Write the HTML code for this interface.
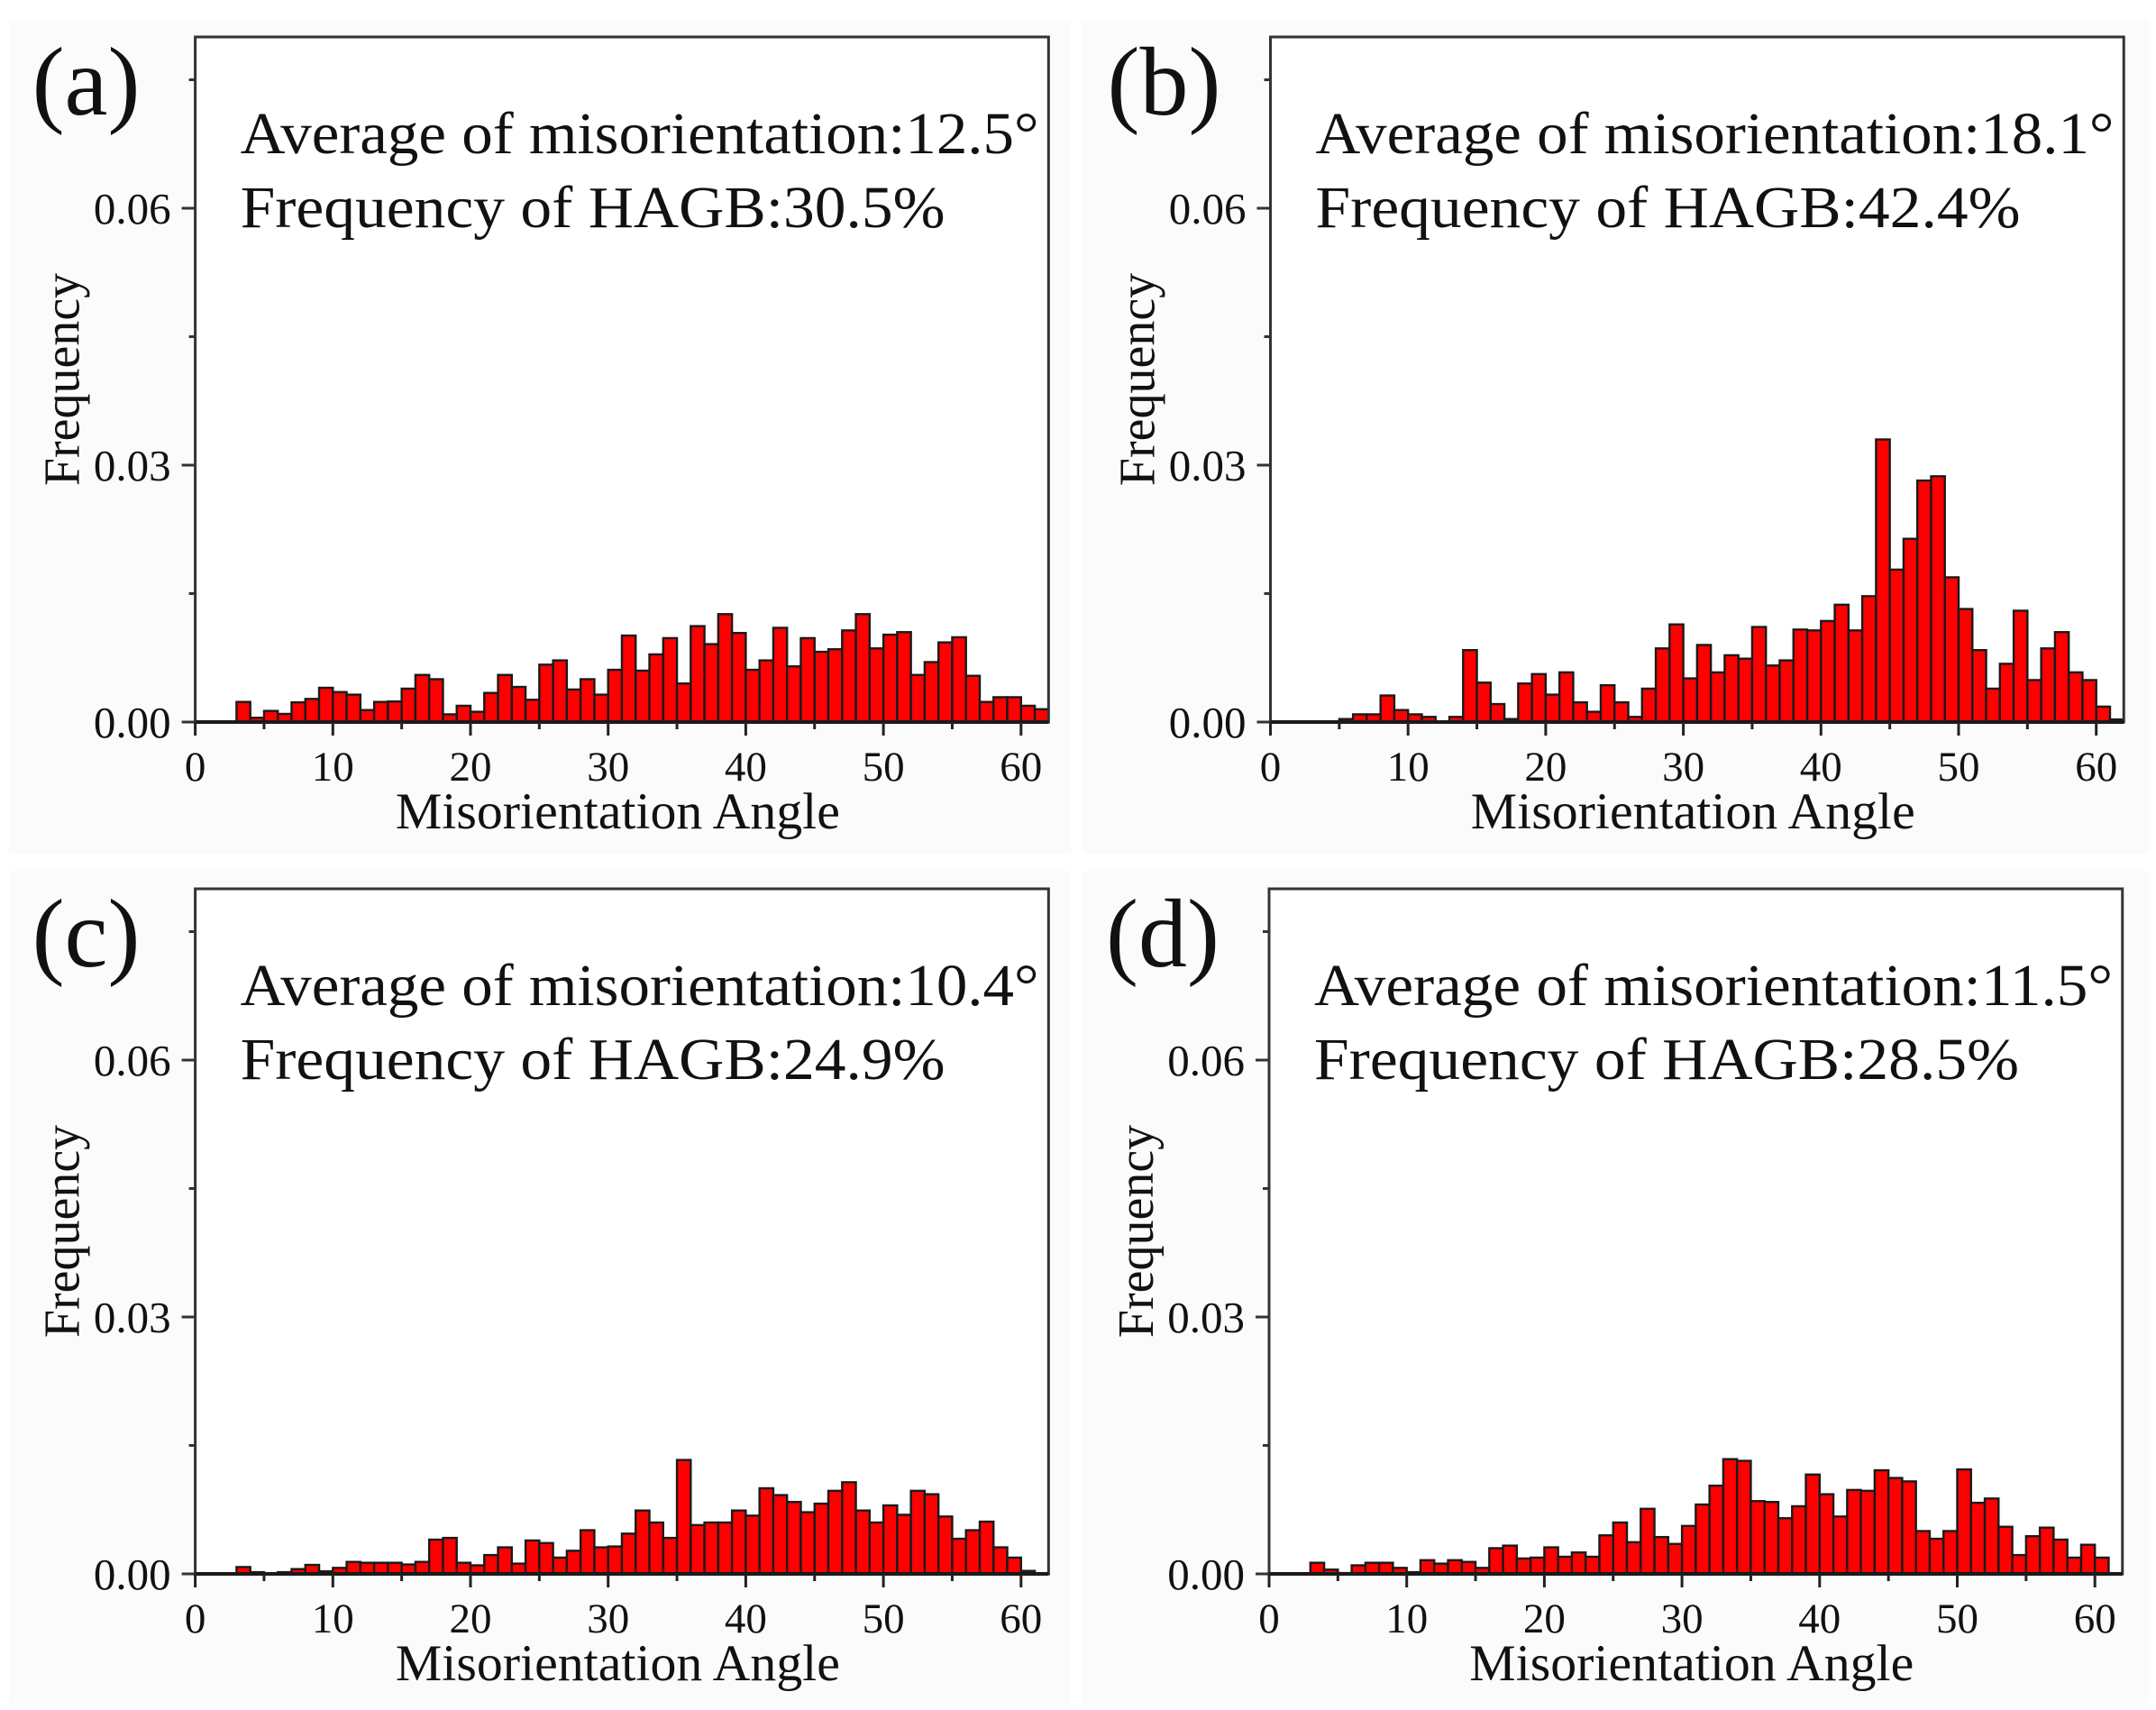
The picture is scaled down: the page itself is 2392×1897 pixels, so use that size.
<!DOCTYPE html>
<html>
<head>
<meta charset="utf-8">
<style>
  html,body{margin:0;padding:0;background:#ffffff;}
  svg{display:block;}
  text{font-family:"Liberation Serif","DejaVu Serif",serif;fill:#111;}
</style>
</head>
<body>
<svg id="fig" width="2392" height="1897" viewBox="0 0 2392 1897" xmlns="http://www.w3.org/2000/svg"></svg>
<script>
// ---- data (bin start angle in degrees, frequency) ----
const binsA = [3,4,5,6,7,8,9,10,11,12,13,14,15,16,17,18,19,20,21,22,23,24,25,26,27,28,29,30,31,32,33,34,35,36,37,38,39,40,41,42,43,44,45,46,47,48,49,50,51,52,53,54,55,56,57,58,59,60,61];
const freqA = [0.00235,0.0005,0.0013,0.00095,0.0023,0.0027,0.004,0.0035,0.0032,0.0014,0.00235,0.0024,0.0039,0.0055,0.005,0.0009,0.0019,0.0012,0.0034,0.0055,0.0041,0.0026,0.0067,0.0072,0.0038,0.005,0.0032,0.0061,0.0101,0.006,0.0079,0.0098,0.0045,0.0112,0.0091,0.0126,0.0104,0.0061,0.0072,0.011,0.0065,0.0098,0.0082,0.0085,0.0107,0.0126,0.0086,0.0102,0.0105,0.0055,0.007,0.0093,0.0099,0.0054,0.00235,0.0029,0.0029,0.0019,0.0015];
const binsB = [5,6,7,8,9,10,11,12,13,14,15,16,17,18,19,20,21,22,23,24,25,26,27,28,29,30,31,32,33,34,35,36,37,38,39,40,41,42,43,44,45,46,47,48,49,50,51,52,53,54,55,56,57,58,59,60,61];
const freqB = [0.00035,0.0009,0.0009,0.0031,0.0014,0.0009,0.0006,0,0.0006,0.0084,0.0046,0.0021,0.00035,0.0045,0.0056,0.0032,0.0058,0.0023,0.0012,0.0043,0.0023,0.0006,0.0039,0.0086,0.0114,0.0051,0.009,0.0058,0.0078,0.0074,0.0111,0.0066,0.0072,0.0108,0.0107,0.0118,0.0137,0.0107,0.0147,0.033,0.0178,0.0214,0.0282,0.0287,0.0169,0.0132,0.0084,0.0039,0.0068,0.013,0.0049,0.0086,0.0105,0.0058,0.0049,0.0018,0.0003];
const binsC = [3,4,5,6,7,8,9,10,11,12,13,14,15,16,17,18,19,20,21,22,23,24,25,26,27,28,29,30,31,32,33,34,35,36,37,38,39,40,41,42,43,44,45,46,47,48,49,50,51,52,53,54,55,56,57,58,59,60];
const freqC = [0.0008,0.0002,0,0.0002,0.00056,0.00105,0.0003,0.0007,0.0014,0.0013,0.0013,0.0013,0.0011,0.0014,0.004,0.0042,0.0013,0.001,0.0022,0.0031,0.0012,0.0039,0.0036,0.0019,0.0027,0.0051,0.0031,0.0032,0.0047,0.0074,0.006,0.0042,0.0133,0.0057,0.006,0.006,0.0074,0.0068,0.01,0.0092,0.0084,0.0072,0.0082,0.0097,0.0107,0.0074,0.006,0.008,0.0069,0.0097,0.0093,0.0067,0.0041,0.0051,0.0061,0.0031,0.0019,0.00035];
const binsD = [3,4,5,6,7,8,9,10,11,12,13,14,15,16,17,18,19,20,21,22,23,24,25,26,27,28,29,30,31,32,33,34,35,36,37,38,39,40,41,42,43,44,45,46,47,48,49,50,51,52,53,54,55,56,57,58,59,60];
const freqD = [0.0013,0.0005,0.0001,0.001,0.0013,0.0013,0.0007,0.0002,0.0016,0.0012,0.0016,0.0014,0.0007,0.003,0.0033,0.0018,0.0019,0.0031,0.002,0.0025,0.002,0.0045,0.006,0.0037,0.0076,0.0043,0.0035,0.0056,0.0081,0.0103,0.0134,0.0132,0.0085,0.0084,0.0065,0.0079,0.0116,0.0093,0.0067,0.0098,0.0097,0.0121,0.0112,0.0108,0.005,0.0041,0.005,0.0122,0.0083,0.0088,0.0055,0.0022,0.0044,0.0054,0.004,0.0019,0.0034,0.0019];
const panelLetters = ["(a)","(b)","(c)","(d)"];
const avgTexts = ["Average of misorientation:12.5°","Average of misorientation:18.1°","Average of misorientation:10.4°","Average of misorientation:11.5°"];
const hagbTexts = ["Frequency of HAGB:30.5%","Frequency of HAGB:42.4%","Frequency of HAGB:24.9%","Frequency of HAGB:28.5%"];
const xTickValues = [0,10,20,30,40,50,60];
const xTickLabels = ["0","10","20","30","40","50","60"];
const yTickValues = [0,0.03,0.06];
const yTickLabels = ["0.00","0.03","0.06"];

const NS = "http://www.w3.org/2000/svg";
const svg = document.getElementById('fig');
function mk(tag, attrs, parent){
  const e = document.createElementNS(NS, tag);
  for (const k in attrs) e.setAttribute(k, attrs[k]);
  (parent||svg).appendChild(e);
  return e;
}
const panels = [
  {id:'a', ox:216.6, oy:801, bins:binsA, freq:freqA, bg:[10,23,1178,924]},
  {id:'b', ox:1409.5, oy:801, bins:binsB, freq:freqB, bg:[1201,23,1183,924]},
  {id:'c', ox:216.6, oy:1746, bins:binsC, freq:freqC, bg:[10,966,1178,924]},
  {id:'d', ox:1408, oy:1746, bins:binsD, freq:freqD, bg:[1201,966,1183,924]}
];
const PXDEG = 15.27, PXFREQ = 285/0.03, XMAX = 62, YMAX = 0.08;

panels.forEach((p, i) => {
  const g = mk('g', {});
  
  
  const xs = v => p.ox + v * PXDEG;
  const ys = v => p.oy - v * PXFREQ;

  const bg = mk('rect', {x:p.bg[0], y:p.bg[1], width:p.bg[2], height:p.bg[3], fill:'#fbfbfb'}, g);
  
  
  const plot = mk('rect', {x:xs(0), y:ys(YMAX), width:xs(XMAX)-xs(0), height:ys(0)-ys(YMAX), fill:'#ffffff'}, g);
  
  

  const bars = mk('g', {}, g);
  
  
  p.bins.forEach((b, j) => {
    const v = p.freq[j];
    if (v <= 0) return;
    const r = mk('rect', {x:xs(b), y:ys(v), width:PXDEG, height:ys(0)-ys(v), fill:'#ff0000', stroke:'#1a1a1a', 'stroke-width':2.4}, bars);
    
    
  });

  const fr = mk('rect', {x:xs(0), y:ys(YMAX), width:xs(XMAX)-xs(0), height:ys(0)-ys(YMAX), fill:'none', stroke:'#333', 'stroke-width':3}, g);
  
  
  const base = mk('line', {x1:xs(0), y1:ys(0), x2:xs(XMAX), y2:ys(0), stroke:'#1a1a1a', 'stroke-width':4}, g);
  
  

  const yt = mk('g', {}, g);
  
  
  yTickValues.forEach((v, k) => {
    mk('line', {x1:xs(0)-15, y1:ys(v), x2:xs(0), y2:ys(v), stroke:'#333', 'stroke-width':3}, yt);
    const t = mk('text', {x:xs(0)-27, y:ys(v)+17, 'font-size':49, 'text-anchor':'end'}, yt);
    t.textContent = yTickLabels[k];
    
    
  });
  [0.015,0.045,0.075].forEach(v => {
    mk('line', {x1:xs(0)-7, y1:ys(v), x2:xs(0), y2:ys(v), stroke:'#333', 'stroke-width':3}, yt);
  });

  const xt = mk('g', {}, g);
  
  
  xTickValues.forEach((v, k) => {
    mk('line', {x1:xs(v), y1:ys(0), x2:xs(v), y2:ys(0)+15, stroke:'#222', 'stroke-width':3}, xt);
    const t = mk('text', {x:xs(v), y:ys(0)+65, 'font-size':47, 'text-anchor':'middle'}, xt);
    t.textContent = xTickLabels[k];
    
    
  });
  [5,15,25,35,45,55].forEach(v => {
    mk('line', {x1:xs(v), y1:ys(0), x2:xs(v), y2:ys(0)+8, stroke:'#222', 'stroke-width':3}, xt);
  });

  const xl = mk('text', {x:xs(30.7), y:ys(0)+118, 'font-size':57, 'text-anchor':'middle', textLength:493, lengthAdjust:'spacingAndGlyphs'}, g);
  xl.textContent = 'Misorientation Angle';
  
  
  const cx = p.ox - 147, cy = p.oy - 380;
  const yl = mk('text', {x:cx, y:cy, 'font-size':56, 'text-anchor':'middle', 'dominant-baseline':'central', transform:'rotate(-90 '+cx+' '+cy+')'}, g);
  yl.textContent = 'Frequency';
  
  

  const top = p.oy - 801;
  const lt = mk('text', {x:p.ox - 181, y:top + 127, 'font-size':108}, g);
  lt.textContent = panelLetters[i];
  
  
  const a1 = mk('text', {x:p.ox + 50, y:top + 170, 'font-size':66, textLength:886, lengthAdjust:'spacingAndGlyphs'}, g);
  a1.textContent = avgTexts[i];
  
  
  const a2 = mk('text', {x:p.ox + 50, y:top + 252, 'font-size':66, textLength:782, lengthAdjust:'spacingAndGlyphs'}, g);
  a2.textContent = hagbTexts[i];
  
  
});
</script>
</body>
</html>
